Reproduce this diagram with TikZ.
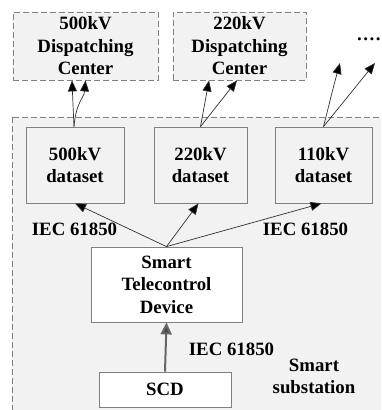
\documentclass[tikz,border=0pt]{standalone}
\usepackage{fontspec}
\setmainfont{Liberation Serif}
\usetikzlibrary{arrows.meta,calc}
\definecolor{boxfill}{HTML}{F2F2F2}
\definecolor{edgegray}{HTML}{808080}
\definecolor{linegray}{HTML}{303030}
\begin{document}
\begin{tikzpicture}[x=1pt,y=-1pt,
  lbl/.style={font=\fontsize{18.8}{22.5}\selectfont\bfseries, align=center, inner sep=0pt},
  dashbox/.style={lbl, draw=edgegray, line width=0.8pt, dash pattern=on 6pt off 3pt, fill=boxfill, minimum height=68pt},
  databox/.style={lbl, draw=edgegray, line width=0.8pt, fill=boxfill, minimum height=76pt},
  whitebox/.style={lbl, draw=edgegray, line width=0.8pt, fill=white},
  thinarrow/.style={draw=linegray, line width=0.7pt, -{Triangle[length=11pt,width=9pt,fill=black]}},
  thickarrow/.style={draw=black!60, line width=2pt, -{Triangle[length=12pt,width=11pt,fill=black!70]}}
]
\clip (0,0) rectangle (381,410);
\useasboundingbox (0,0) rectangle (381,410);
% smart substation area
\draw[draw=edgegray, line width=0.8pt, dash pattern=on 6pt off 3pt, fill=boxfill] (12,117) rectangle (400,430);
% dispatching centers
\node[dashbox, minimum width=145pt] (dc500) at (85.5,46) {500kV\\Dispatching\\Center};
\node[dashbox, minimum width=133pt] (dc220) at (239.5,46) {220kV\\Dispatching\\Center};
\node[lbl] (dots) at (369,42) {····};
% datasets
\node[databox, minimum width=98pt] (d500) at (75,165) {500kV\\dataset};
\node[databox, minimum width=93pt] (d220) at (200.5,165) {220kV\\dataset};
\node[databox, minimum width=97pt] (d110) at (323.5,165) {110kV\\dataset};
% telecontrol and SCD
\node[whitebox, minimum width=151pt, minimum height=75pt] (tc) at (166.5,284.5) {Smart\\Telecontrol\\Device};
\node[whitebox, minimum width=132pt, minimum height=35pt] (scd) at (165,389.5) {SCD};
% labels
\node[lbl] (iec1) at (74.5,229) {IEC 61850};
\node[lbl] (iec2) at (305.5,229) {IEC 61850};
\node[lbl] (iec3) at (231.5,349) {IEC 61850};
\node[lbl] (subst) at (314,376.5) {Smart\\substation};
% free ends
\coordinate (f1) at (340,63);
\coordinate (f2) at (375,63);
% connectors
\draw[thickarrow] (scd.north) -- (tc.south);
\draw[thinarrow] (tc.north) -- (d500.south);
\draw[thinarrow] (tc.north) -- ($(d220.south)+(-2,0)$);
\draw[thinarrow] (tc.north) -- ($(d110.south)+(-2,0)$);
\draw[thinarrow] ($(d500.north)+(-1,0)$) .. controls (73,105) .. ($(dc500.south)+(-13.5,0)$);
\draw[thinarrow] ($(d500.north)+(-1,0)$) .. controls (76,102) and (84,98) .. (dc500.south);
\draw[thinarrow] (d220.north) -- ($(dc220.south)+(-30.5,0)$);
\draw[thinarrow] (d220.north) -- ($(dc220.south)+(-2.5,0)$);
\draw[thinarrow] (d110.north) .. controls (329,105) and (333,88) .. (f1);
\draw[thinarrow] (d110.north) -- (f2);
\end{tikzpicture}
\end{document}
